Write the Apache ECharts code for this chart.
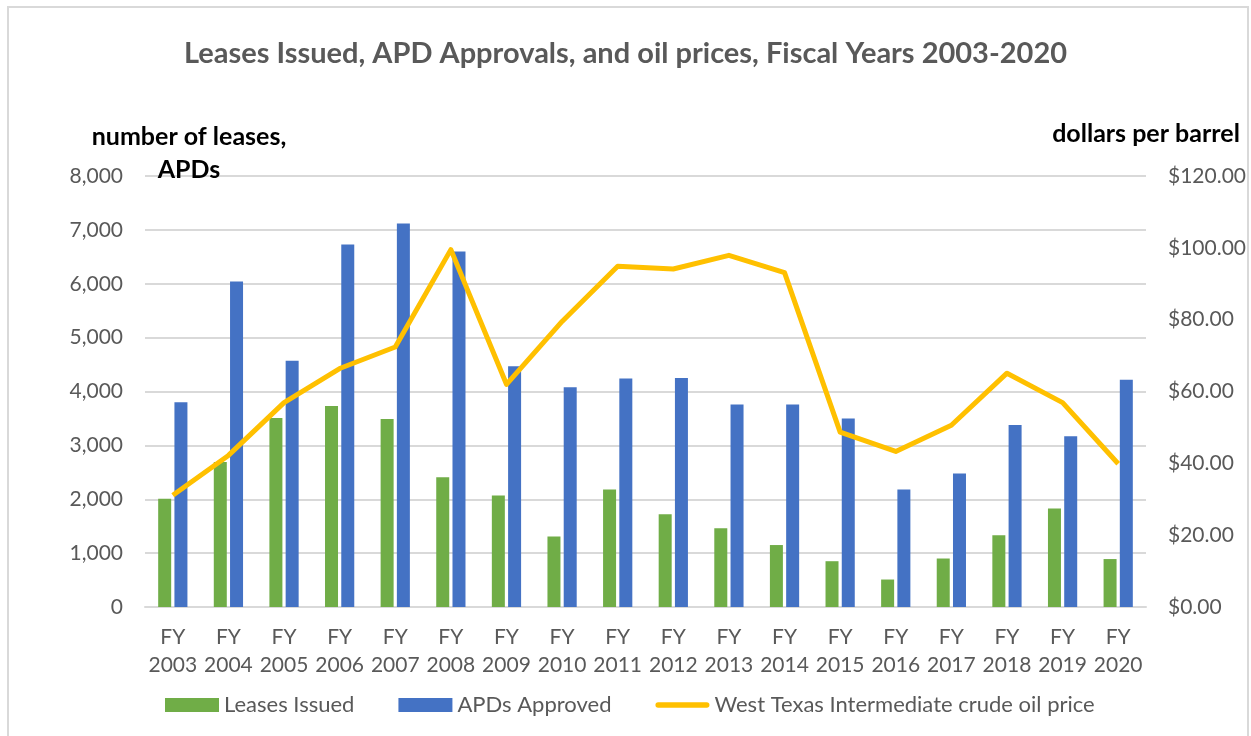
<!DOCTYPE html>
<html>
<head>
<meta charset="utf-8">
<script src="https://cdn.jsdelivr.net/npm/echarts@6/dist/echarts.min.js"></script>
<style>
    html, body { margin: 0; padding: 0; background: #fff; }
    #chart { width: 1251px; height: 736px; }
</style>
</head>
<body>
<div id="chart"></div>
<script>
// fiscal years and values
const years = ['2003', '2004', '2005', '2006', '2007', '2008', '2009', '2010', '2011',
    '2012', '2013', '2014', '2015', '2016', '2017', '2018', '2019', '2020'];
const leasesIssued = [2010, 2690, 3510, 3730, 3490, 2410, 2070, 1310, 2180,
    1720, 1460, 1150, 850, 510, 900, 1330, 1830, 890];
const apdsApproved = [3800, 6040, 4570, 6730, 7120, 6600, 4470, 4080, 4240,
    4250, 3760, 3760, 3500, 2180, 2480, 3380, 3170, 4220];
const oilPrice = [31.1, 42.2, 56.9, 66.4, 72.4, 99.5, 62.0, 79.5, 94.9,
    94.1, 97.9, 93.1, 48.7, 43.3, 50.6, 65.1, 56.9, 39.9];

const FONT = 'Lato, "Open Sans", sans-serif';
const GREY = '#595959';

const chart = echarts.init(document.getElementById('chart'));

const option = {
    animation: false,
    textStyle: { fontFamily: FONT },
    title: {
        text: 'Leases Issued, APD Approvals, and oil prices, Fiscal Years 2003-2020',
        left: 'center',
        top: 34,
        textStyle: { fontFamily: FONT, fontSize: 29, fontWeight: 'bold', color: GREY }
    },
    graphic: [
        {
            type: 'rect',
            silent: true,
            shape: { x: 8, y: 7, width: 1240, height: 740 },
            style: { fill: 'none', stroke: '#d9d9d9', lineWidth: 2 }
        },
        {
            // left axis title, centred over the axis labels as in the original
            type: 'text',
            silent: true,
            z: 100,
            style: {
                text: 'number of leases,\nAPDs',
                x: 189,
                y: 120,
                align: 'center',
                verticalAlign: 'top',
                lineHeight: 33,
                font: 'bold 25px ' + FONT,
                fill: '#000'
            }
        }
    ],
    legend: {
        left: 160,
        top: 689,
        itemWidth: 54,
        itemHeight: 14,
        itemGap: 44,
        textStyle: { fontFamily: FONT, fontSize: 22, color: GREY },
        data: [
            { name: 'Leases Issued', icon: 'rect' },
            { name: 'APDs Approved', icon: 'rect' },
            { name: 'West Texas Intermediate crude oil price', icon: 'path://M3,0L57,0A3,3,0,0,1,57,6L3,6A3,3,0,0,1,3,0Z' }
        ]
    },
    grid: {
        left: 145,
        right: 105,
        top: 176,
        bottom: 129
    },
    xAxis: {
        type: 'category',
        data: years.map(y => 'FY\n' + y),
        axisTick: { show: false },
        axisLine: { lineStyle: { color: '#d9d9d9', width: 2 } },
        axisLabel: {
            color: GREY,
            fontSize: 21,
            lineHeight: 28,
            margin: 16,
            interval: 0
        }
    },
    yAxis: [
        {
            type: 'value',
            min: 0,
            max: 8000,
            interval: 1000,
            axisLine: { show: false },
            axisTick: { show: false },
            splitLine: { lineStyle: { color: '#d9d9d9', width: 2 } },
            axisLabel: {
                color: GREY,
                fontSize: 21,
                margin: 22,
                formatter: v => v.toLocaleString('en-US')
            }
        },
        {
            type: 'value',
            min: 0,
            max: 120,
            interval: 20,
            name: 'dollars per barrel',
            nameLocation: 'end',
            nameGap: 30,
            nameTextStyle: { color: '#000', fontSize: 25, fontWeight: 'bold', fontFamily: FONT },
            axisLine: { show: false },
            axisTick: { show: false },
            splitLine: { show: false },
            axisLabel: {
                color: GREY,
                fontSize: 21,
                margin: 22,
                formatter: v => '$' + v.toFixed(2)
            }
        }
    ],
    series: [
        {
            name: 'Leases Issued',
            type: 'bar',
            data: leasesIssued,
            barWidth: 13,
            barGap: '25%',
            itemStyle: { color: '#70AD47' }
        },
        {
            name: 'APDs Approved',
            type: 'bar',
            data: apdsApproved,
            barWidth: 13,
            itemStyle: { color: '#4472C4' }
        },
        {
            name: 'West Texas Intermediate crude oil price',
            type: 'line',
            yAxisIndex: 1,
            data: oilPrice,
            symbol: 'none',
            itemStyle: { color: '#FFC000' },
            lineStyle: { color: '#FFC000', width: 5, join: 'round' },
            z: 5
        }
    ]
};

chart.setOption(option);
</script>
</body>
</html>
